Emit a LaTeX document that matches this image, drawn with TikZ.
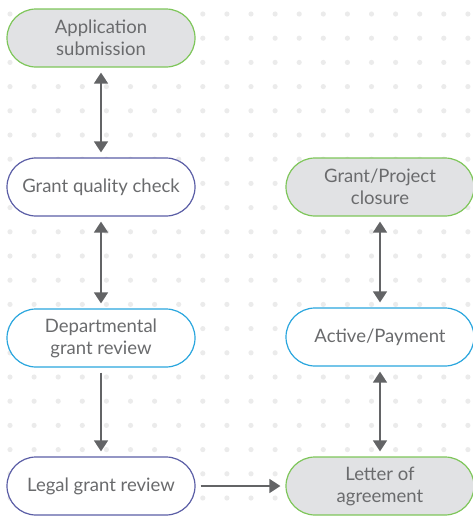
\documentclass[tikz,border=0pt]{standalone}
\usepackage{fontspec}
\setmainfont{Lato}
\usetikzlibrary{arrows.meta}
\definecolor{leafgreen}{HTML}{7EC65A}
\definecolor{capsulegray}{HTML}{E1E2E4}
\definecolor{inkindigo}{HTML}{5B5EA6}
\definecolor{skycyan}{HTML}{2AA6DE}
\definecolor{arrowgray}{HTML}{636466}
\definecolor{textgray}{HTML}{6A6B6D}
\definecolor{dotgray}{HTML}{EBEBEB}
\tikzstyle{stage} = [rectangle, rounded corners=29pt, minimum width=188pt, minimum height=58pt, line width=1.2pt, text=textgray, align=center, font=\fontsize{18.5}{22}\selectfont]
\tikzstyle{startend} = [stage, draw=leafgreen, fill=capsulegray]
\tikzstyle{review} = [stage, draw=inkindigo, fill=white]
\tikzstyle{dept} = [stage, draw=skycyan, fill=white]
\tikzstyle{flow} = [draw=arrowgray, line width=1.5pt, shorten <=5pt, shorten >=5pt]
\tikzstyle{oneway} = [flow, -{Triangle[width=14pt,length=11pt]}]
\tikzstyle{twoway} = [flow, {Triangle[width=14pt,length=11pt]}-{Triangle[width=14pt,length=11pt]}]

\begin{document}
\begin{tikzpicture}[x=1pt,y=-1pt]
                \useasboundingbox (0,0) rectangle (473,517);
                \foreach \col in {0,...,19}
                    \foreach \row in {0,...,20}
                        \fill[dotgray] (10+24.1*\col,14+24.2*\row) circle (2.6pt);

                \node[startend] (submit) at (101,38) {Application\\submission};
                \node[review] (quality) at (101,187) {Grant quality check};
                \node[dept] (deptrev) at (101,338) {Departmental\\grant review};
                \node[review] (legal) at (101,486) {Legal grant review};
                \node[startend] (closure) at (380,187) {Grant/Project\\closure};
                \node[dept] (payment) at (380,337) {Active/Payment};
                \node[startend] (letter) at (380,486) {Letter of\\agreement};

                \draw[twoway] (submit) -- (quality);
                \draw[twoway] (quality) -- (deptrev);
                \draw[oneway] (deptrev) -- (legal);
                \draw[oneway] (legal) -- (letter);
                \draw[twoway] (letter) -- (payment);
                \draw[twoway] (payment) -- (closure);
\end{tikzpicture}
\end{document}
